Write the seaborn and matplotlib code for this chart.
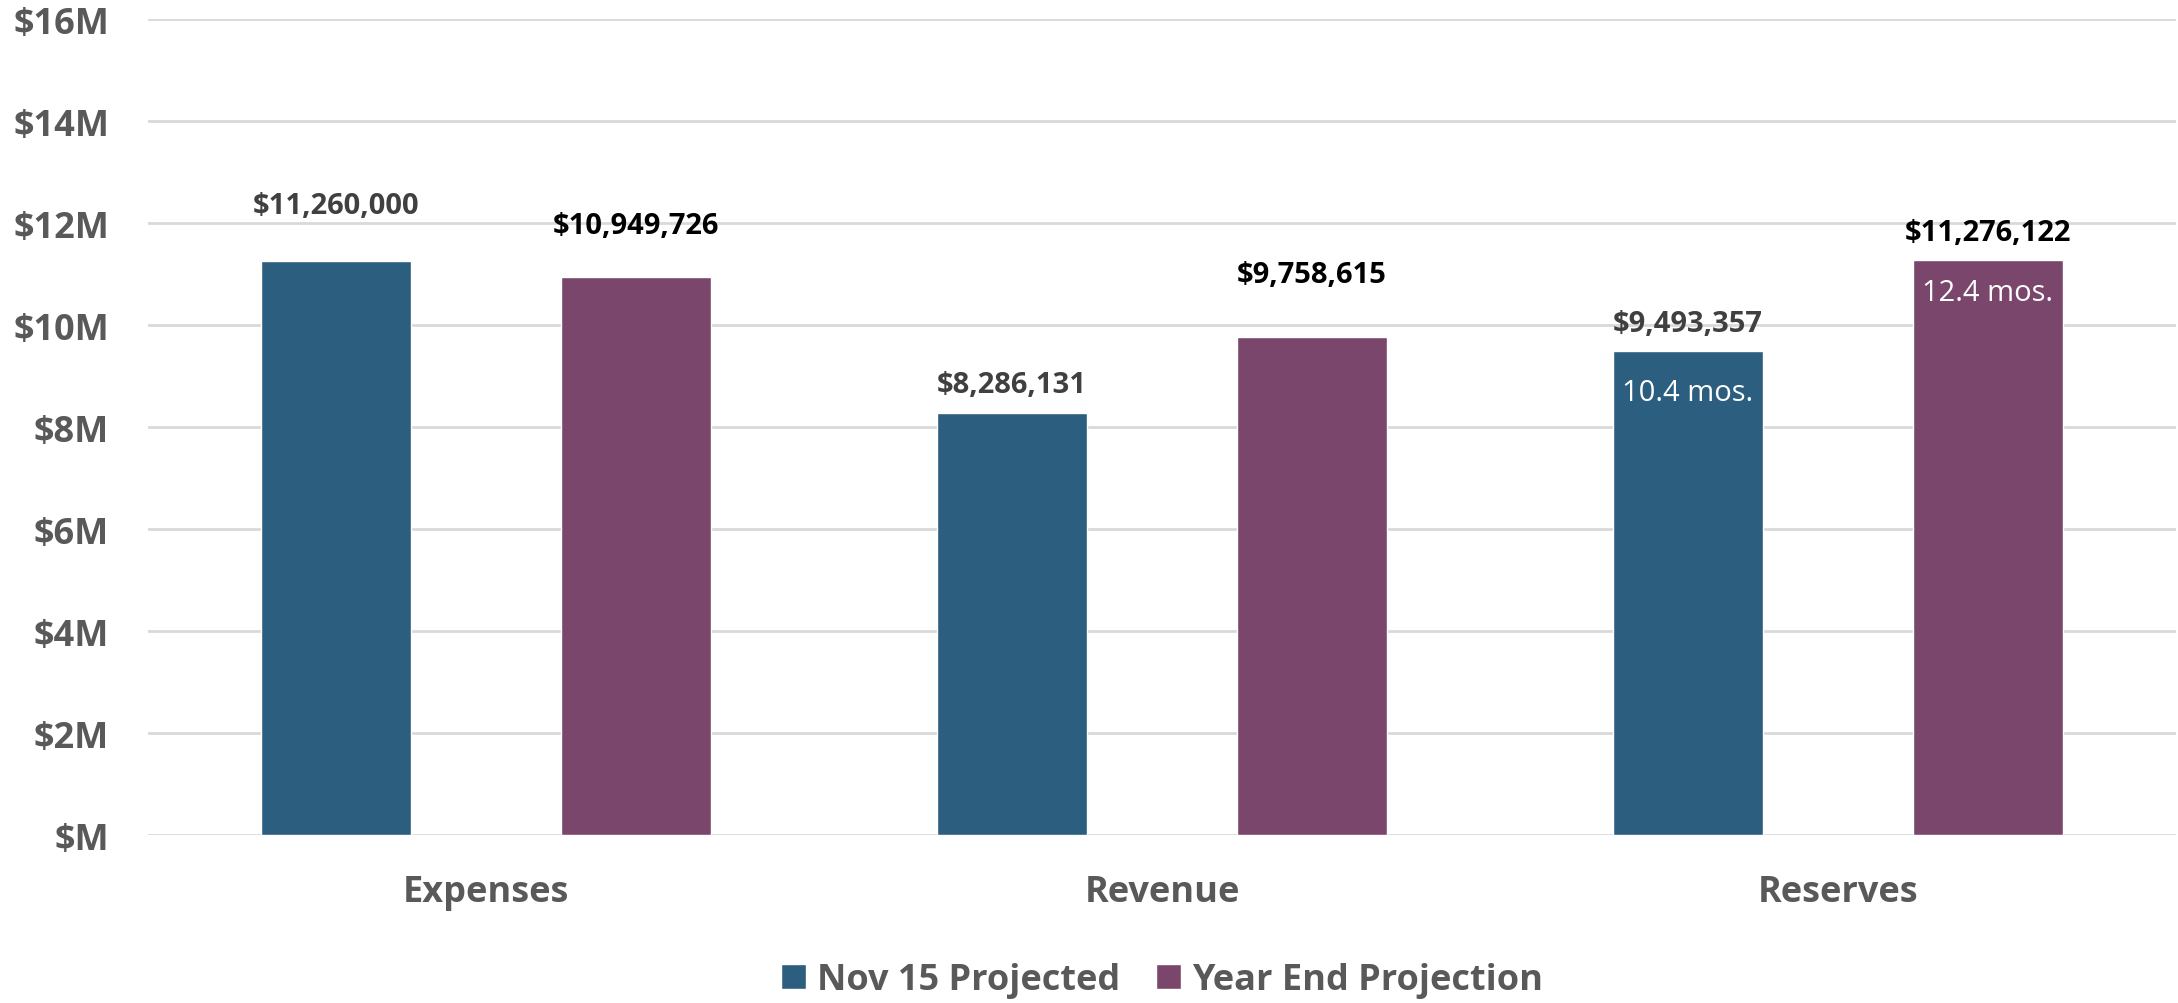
"""Nov 15 vs. Year End projection: expenses, revenue, reserves."""

import matplotlib.pyplot as plt
import pandas as pd
import seaborn as sns

categories = ["Expenses", "Revenue", "Reserves"]
series_names = ["Nov 15 Projected", "Year End Projection"]
nov15_values = [11260000, 8286131, 9493357]
year_end_values = [10949726, 9758615, 11276122]
months_labels = {("Reserves", "Nov 15 Projected"): "10.4 mos.",
                 ("Reserves", "Year End Projection"): "12.4 mos."}
y_ticks_m = [0, 2, 4, 6, 8, 10, 12, 14, 16]

# manual label offsets relative to bar tops (points), like in the original workbook
label_offsets = {
    "Nov 15 Projected": [40, 20, 20],
    "Year End Projection": [37, 45, 20],
}
months_offsets = {"Nov 15 Projected": -30, "Year End Projection": -23}

BLUE = "#2C5E7F"
PURPLE = "#7B466C"
GREY = "#595959"
FONT = ["Open Sans", "DejaVu Sans"]

df = pd.DataFrame({
    "Kategorie": categories * 2,
    "Serie": [series_names[0]] * 3 + [series_names[1]] * 3,
    "Wert": [v / 1e6 for v in nov15_values + year_end_values],
})

sns.set_theme(style="white")
plt.rcParams["font.family"] = FONT

fig = plt.figure(figsize=(21.78, 10.04), dpi=100)
ax = fig.add_axes([0.068, 0.167, 0.931, 0.813])

sns.barplot(
    data=df, x="Kategorie", y="Wert", hue="Serie",
    order=categories, hue_order=series_names,
    palette=[BLUE, PURPLE], width=0.888, gap=0.5,
    saturation=1, errorbar=None, ax=ax,
)

ax.set_xlim(-0.5, 2.5)
ax.set_ylim(0, 16)
ax.set_yticks(y_ticks_m)
ax.set_yticklabels([f"${v}M" if v else "$M" for v in y_ticks_m])
ax.yaxis.grid(True, color="#D9D9D9", linewidth=2)
ax.set_axisbelow(True)
for side in ["top", "right", "left", "bottom"]:
    ax.spines[side].set_visible(False)
ax.set_xlabel("")
ax.set_ylabel("")
ax.tick_params(axis="y", length=0, pad=28, labelsize=26, labelcolor=GREY)
ax.tick_params(axis="x", length=0, pad=28, labelsize=26, labelcolor=GREY)
for lab in ax.get_xticklabels() + ax.get_yticklabels():
    lab.set_fontweight("bold")

for serie, container in zip(series_names, ax.containers):
    color = "#404040" if serie == series_names[0] else "black"
    for i, bar in enumerate(container):
        h = bar.get_height()
        x = bar.get_x() + bar.get_width() / 2
        ax.annotate(
            f"${h * 1e6:,.0f}", (x, h), xytext=(0, label_offsets[serie][i]),
            textcoords="offset points", ha="center", va="center",
            fontsize=21, fontweight="bold", color=color,
        )
        key = (categories[i], serie)
        if key in months_labels:
            ax.annotate(
                months_labels[key], (x, h), xytext=(0, months_offsets[serie]),
                textcoords="offset points", ha="center", va="center",
                fontsize=21, color="white",
            )

ax.legend(
    loc="center", bbox_to_anchor=(0.5, -0.177), ncol=2, frameon=False,
    prop={"size": 26, "weight": "bold"}, handlelength=0.7, handleheight=0.7,
    handletextpad=0.3, columnspacing=1.0, labelcolor=GREY,
)

fig.savefig("out.png", dpi=100)
plt.close(fig)
